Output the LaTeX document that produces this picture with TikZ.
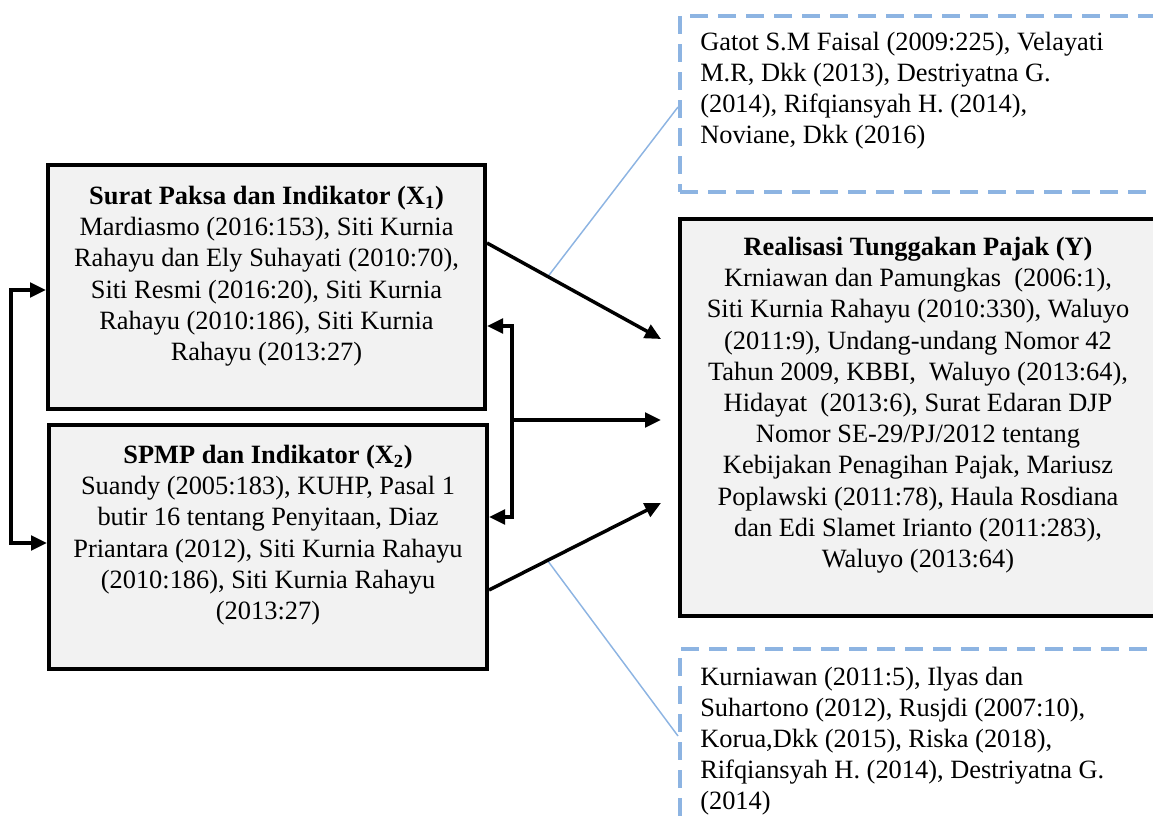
\documentclass[tikz,border=0pt]{standalone}
\usepackage{fontspec}
\setmainfont{Liberation Serif}
\usepackage{tikz}
\usetikzlibrary{arrows.meta, positioning, calc}
\definecolor{boxgray}{HTML}{F2F2F2}
\definecolor{refblue}{HTML}{8DB4E2}
\tikzset{
  mainbox/.style={draw=black, line width=3pt, fill=boxgray, inner sep=0pt},
  refbox/.style={draw=refblue, line width=3pt, dash pattern=on 13.5pt off 7.5pt, inner sep=0pt},
  boxtext/.style={align=center, inner sep=0pt, font=\fontsize{19.8}{23.4}\selectfont},
  reftext/.style={align=left, inner sep=0pt, font=\fontsize{19.8}{23.3}\selectfont},
  arr/.style={line width=2.6pt, -{Triangle[length=12pt, width=11pt]}},
  biarr/.style={line width=2.6pt, {Triangle[length=12pt, width=11pt]}-{Triangle[length=12pt, width=11pt]}},
  leader/.style={draw=refblue, line width=1.1pt}
}

\begin{document}
\begin{tikzpicture}[x=0.75pt, y=-0.75pt]
    \clip (0,0) rectangle (1153,821);

    \node[mainbox, minimum width=327.75pt, minimum height=183pt] (X1) at (266.5,287) {};
    \node[mainbox, minimum width=328.5pt, minimum height=183pt] (X2) at (268,547) {};
    \node[mainbox, minimum width=363.75pt, minimum height=297.75pt] (Y) at (922.5,417.5) {};
    \node[refbox, minimum width=375pt, minimum height=132pt] (refTop) at (930,104) {};
    \node[refbox, minimum width=375pt, minimum height=188.25pt] (refBot) at (930,774.5) {};

    \node[boxtext, anchor=north] (X1text) at ($(X1.north)+(0,23)$)
      {\textbf{Surat Paksa dan Indikator (X\textsubscript{1})}\\
       Mardiasmo (2016:153), Siti Kurnia\\
       Rahayu dan Ely Suhayati (2010:70),\\
       Siti Resmi (2016:20), Siti Kurnia\\
       Rahayu (2010:186), Siti Kurnia\\
       Rahayu (2013:27)};
    \node[boxtext, anchor=north] (X2text) at ($(X2.north)+(0,22)$)
      {\textbf{SPMP dan Indikator (X\textsubscript{2})}\\
       Suandy (2005:183), KUHP, Pasal 1\\
       butir 16 tentang Penyitaan, Diaz\\
       Priantara (2012), Siti Kurnia Rahayu\\
       (2010:186), Siti Kurnia Rahayu\\
       (2013:27)};
    \node[boxtext, anchor=north] (Ytext) at ($(Y.north)+(-4.5,20)$)
      {\textbf{Realisasi Tunggakan Pajak (Y)}\\
       Krniawan dan Pamungkas~ (2006:1),\\
       Siti Kurnia Rahayu (2010:330), Waluyo\\
       (2011:9), Undang-undang Nomor 42\\
       Tahun 2009, KBBI,~ Waluyo (2013:64),\\
       Hidayat~ (2013:6), Surat Edaran DJP\\
       Nomor SE-29/PJ/2012 tentang\\
       Kebijakan Penagihan Pajak, Mariusz\\
       Poplawski (2011:78), Haula Rosdiana\\
       dan Edi Slamet Irianto (2011:283),\\
       Waluyo (2013:64)};
    \node[reftext, anchor=north west] (topText) at ($(refTop.north west)+(22,18)$)
      {Gatot S.M Faisal (2009:225), Velayati\\
       M.R, Dkk (2013), Destriyatna G.\\
       (2014), Rifqiansyah H. (2014),\\
       Noviane, Dkk (2016)};
    \node[reftext, anchor=north west] (botText) at ($(refBot.north west)+(22,20)$)
      {Kurniawan (2011:5), Ilyas dan\\
       Suhartono (2012), Rusjdi (2007:10),\\
       Korua,Dkk (2015), Riska (2018),\\
       Rifqiansyah H. (2014), Destriyatna G.\\
       (2014)};

    \coordinate (startA) at ($(X1.east)+(0,-44)$);
    \coordinate (startC) at ($(X2.east)+(0,43)$);
    \coordinate (inA) at ($(Y.west)+(-17,-78.5)$);
    \coordinate (inB) at ($(Y.west)+(-17,2.5)$);
    \coordinate (inC) at ($(Y.west)+(-17,85.5)$);
    \coordinate (busTop) at ($(X1.east)+(25,39)$);

    \draw[leader] ($(startA)!0.35!(inA)$) -- ($(refTop.west)+(0,3)$);
    \draw[leader] ($(startC)!0.34!(inC)$) -- ($(refBot.north west)+(0,89)$);

    \draw[arr] (startA) -- (inA);
    \draw[arr] (startC) -- (inC);
    \draw[biarr] ($(X1.east)+(0,39)$) -- (busTop) |- ($(X2.east)+(0,-30)$);
    \draw[arr] (busTop |- inB) -- (inB);
    \draw[biarr] ($(X1.west)+(0,3)$) -- ++(-35,0) |- ($(X2.west)+(0,-4)$);
\end{tikzpicture}
\end{document}
